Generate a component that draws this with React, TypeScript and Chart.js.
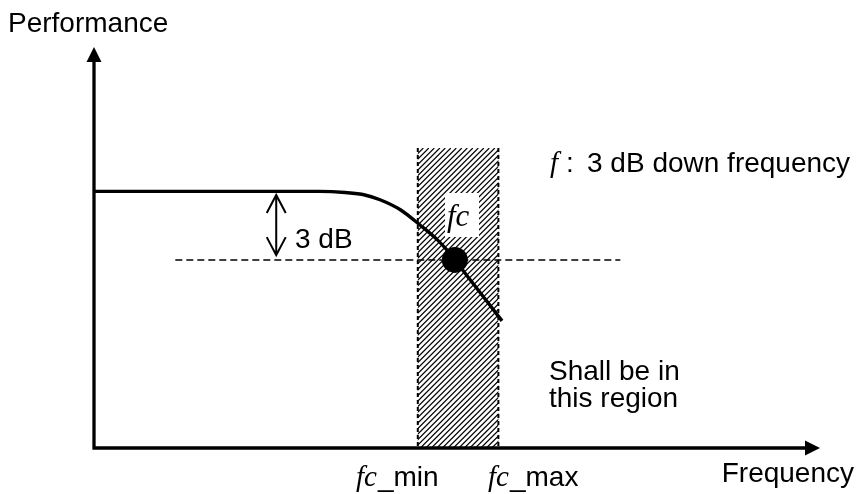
import React, { useEffect, useRef } from "react";
import { Chart, registerables } from "chart.js";

Chart.register(...registerables);

// Response curve (frequency units 0..100, performance units 0..100)
const curveX = [0, 31.1, 34.6, 37.3, 39.4, 42.2, 44.9, 47.3, 48.6, 49.7, 56.2];
const curveY = [64.0, 64.0, 63.7, 63.1, 61.9, 59.4, 55.6, 51.9, 49.4, 46.9, 31.7];
// 3 dB down point
const cutoffX = [49.7];
const cutoffY = [46.9];
// 3 dB threshold (dashed)
const thresholdX = [11.2, 72.5];
const thresholdY = [46.9, 46.9];
// allowed region fc_min .. fc_max
const bandX = [44.6, 55.7];
const bandTop = [74.8];
// 3 dB marker arrow
const dbArrowX = [25.1];
const dbArrowY = [63.1, 48.1];
// labels
const axisTitles = ["Performance", "Frequency"];
const bandLabels = ["_min", "_max"];
const noteLines = ["Shall be in", "this region"];
const legendNote = "3 dB down frequency";
const dbLabel = "3 dB";
const fcLabel = "fc";

const SANS = "'Liberation Sans', Arial, sans-serif";
const SERIF = "'Liberation Serif', 'Times New Roman', serif";

const diagramPlugin = {
  id: "diagram",
  beforeDatasetsDraw(chart: any) {
    const { ctx, scales } = chart;
    const xs = scales.x, ys = scales.y;
    const x0 = xs.getPixelForValue(bandX[0]);
    const x1 = xs.getPixelForValue(bandX[1]);
    const yT = ys.getPixelForValue(bandTop[0]);
    const yB = ys.getPixelForValue(0);
    ctx.save();
    ctx.beginPath();
    ctx.rect(x0, yT, x1 - x0, yB - yT);
    ctx.clip();
    ctx.strokeStyle = "#000";
    ctx.lineWidth = 1.2;
    const h = yB - yT;
    for (let k = x0 - h; k < x1 + 6; k += 5.5) {
      ctx.beginPath();
      ctx.moveTo(k, yB);
      ctx.lineTo(k + h, yT);
      ctx.stroke();
    }
    ctx.restore();
    ctx.save();
    ctx.strokeStyle = "#000";
    ctx.lineWidth = 2;
    ctx.setLineDash([4, 3]);
    [x0, x1].forEach((x) => {
      ctx.beginPath();
      ctx.moveTo(x, yT);
      ctx.lineTo(x, yB);
      ctx.stroke();
    });
    ctx.restore();
  },
  afterDatasetsDraw(chart: any) {
    const { ctx, scales, chartArea } = chart;
    const xs = scales.x, ys = scales.y;
    ctx.save();
    ctx.fillStyle = "#000";
    ctx.strokeStyle = "#000";
    // axes
    const ox = xs.getPixelForValue(0);
    const oy = ys.getPixelForValue(0);
    ctx.lineWidth = 3.3;
    ctx.lineCap = "butt";
    ctx.beginPath();
    ctx.moveTo(ox, oy + 1.6);
    ctx.lineTo(ox, chartArea.top + 14);
    ctx.moveTo(ox - 1.6, oy);
    ctx.lineTo(chartArea.right - 14, oy);
    ctx.stroke();
    ctx.beginPath();
    ctx.moveTo(ox, chartArea.top);
    ctx.lineTo(ox - 7.5, chartArea.top + 15);
    ctx.lineTo(ox + 7.5, chartArea.top + 15);
    ctx.closePath();
    ctx.fill();
    ctx.beginPath();
    ctx.moveTo(chartArea.right, oy);
    ctx.lineTo(chartArea.right - 15, oy - 7.5);
    ctx.lineTo(chartArea.right - 15, oy + 7.5);
    ctx.closePath();
    ctx.fill();

    // 3 dB double arrow
    const ax = xs.getPixelForValue(dbArrowX[0]);
    const ay0 = ys.getPixelForValue(dbArrowY[0]);
    const ay1 = ys.getPixelForValue(dbArrowY[1]);
    ctx.lineWidth = 2;
    ctx.beginPath();
    ctx.moveTo(ax, ay0);
    ctx.lineTo(ax, ay1);
    ctx.moveTo(ax - 9.5, ay0 + 18);
    ctx.lineTo(ax, ay0);
    ctx.lineTo(ax + 9.5, ay0 + 18);
    ctx.moveTo(ax - 9.5, ay1 - 18);
    ctx.lineTo(ax, ay1);
    ctx.lineTo(ax + 9.5, ay1 - 18);
    ctx.stroke();

    // fc label on white box
    ctx.fillStyle = "#fff";
    ctx.fillRect(445, 193, 34, 44);
    ctx.fillStyle = "#000";
    ctx.textBaseline = "alphabetic";
    ctx.textAlign = "left";
    ctx.font = `italic 31px ${SERIF}`;
    ctx.fillText(fcLabel, 447, 226);

    // texts
    ctx.font = `28px ${SANS}`;
    ctx.fillText(axisTitles[0], 8, 32);
    ctx.textAlign = "right";
    ctx.fillText(axisTitles[1], 854, 482);
    ctx.textAlign = "left";
    ctx.fillText(dbLabel, 295, 248);
    ctx.fillText(noteLines[0], 549, 380);
    ctx.fillText(noteLines[1], 549, 407);

    // f : 3 dB down frequency
    ctx.font = `italic 29px ${SERIF}`;
    ctx.fillText("f", 550, 172);
    ctx.font = `28px ${SANS}`;
    ctx.fillText(":", 566, 172);
    ctx.fillText(legendNote, 587, 172);

    // fc_min / fc_max
    const starts = [356, 488];
    starts.forEach((sx, i) => {
      ctx.font = `italic 29px ${SERIF}`;
      ctx.fillText(fcLabel, sx, 486);
      const w = ctx.measureText(fcLabel).width;
      ctx.font = `28px ${SANS}`;
      ctx.fillText(bandLabels[i], sx + w + 1, 486);
    });
    ctx.restore();
  },
};

export default function App() {
  const ref = useRef<HTMLCanvasElement>(null);
  useEffect(() => {
    if (!ref.current) return;
    const chart = new Chart(ref.current, {
      type: "scatter",
      data: {
        datasets: [
          {
            data: curveX.map((x, i) => ({ x, y: curveY[i] })),
            showLine: true,
            borderColor: "#000",
            borderWidth: 3.4,
            pointRadius: 0,
            cubicInterpolationMode: "monotone",
            fill: false,
            order: 2,
          },
          {
            data: thresholdX.map((x, i) => ({ x, y: thresholdY[i] })),
            showLine: true,
            borderColor: "#000",
            borderWidth: 1.5,
            borderDash: [7, 4],
            pointRadius: 0,
            fill: false,
            order: 3,
          },
          {
            data: cutoffX.map((x, i) => ({ x, y: cutoffY[i] })),
            showLine: false,
            backgroundColor: "#000",
            borderColor: "#000",
            pointRadius: 13,
            pointBorderWidth: 0,
            order: 1,
          },
        ],
      },
      options: {
        responsive: false,
        animation: false,
        devicePixelRatio: 1,
        layout: { padding: { left: 94, right: 42, top: 47, bottom: 46 } },
        plugins: { legend: { display: false }, tooltip: { enabled: false } },
        events: [],
        scales: {
          x: { type: "linear", min: 0, max: 100, display: false },
          y: { type: "linear", min: 0, max: 100, display: false },
        },
      },
      plugins: [diagramPlugin],
    } as any);
    return () => chart.destroy();
  }, []);
  return (
    <div style={{ position: "fixed", left: 0, top: 0, width: 862, height: 494, background: "#fff" }}>
      <canvas ref={ref} width={862} height={494} />
    </div>
  );
}
